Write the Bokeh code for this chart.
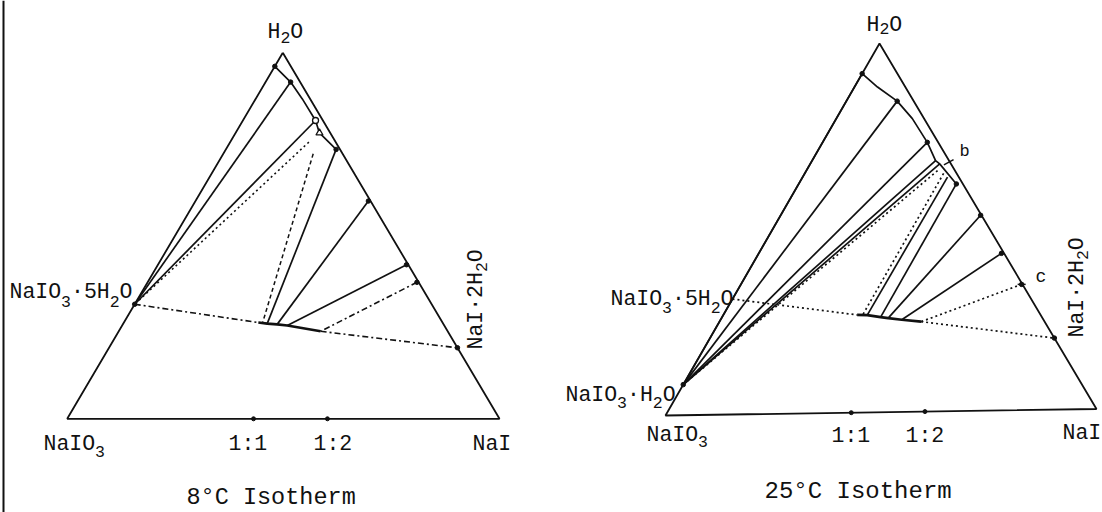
import math
from bokeh.plotting import figure
from bokeh.models import Range1d, Span
from bokeh.core.properties import value
from bokeh.embed import file_html
from bokeh.resources import INLINE

# ---------------- DATA: compositions in wt % (H2O, NaI); NaIO3 = 100 - H2O - NaI
# solid phases
penta_h2o, penta_nai = 31.3, 0.0      # NaIO3.5H2O
mono_h2o, mono_nai = 8.3, 0.0         # NaIO3.H2O
dih_h2o, dih_nai = 19.4, 80.6         # NaI.2H2O
ratio_nai = [43.1, 60.2]              # 1:1 and 1:2 on the NaIO3-NaI side
ratio_labels = ["1:1", "1:2"]

# ---- 8 C isotherm
i8_curve_h2o = [96.3, 92.0, 87.4, 81.5, 78.1, 73.6]
i8_curve_nai = [0.0, 5.8, 10.8, 16.8, 19.4, 25.5]
i8_open_h2o = [81.5, 78.1]            # open symbols on the curve
i8_open_nai = [16.8, 19.4]
i8_liq_penta_h2o = [92.0, 81.5]       # liquids tied to NaIO3.5H2O
i8_liq_penta_nai = [5.8, 16.8]
i8_dotliq_h2o, i8_dotliq_nai = 75.6, 18.2
i8_dash_h2o = [72.4, 26.3]
i8_dash_nai = [20.8, 32.1]
i8_liq_h2o = [73.6, 59.5, 42.1]       # liquids tied to residues
i8_liq_nai = [25.5, 40.0, 57.5]
i8_res_h2o = [26.0, 25.8, 25.5]
i8_res_nai = [33.3, 35.7, 38.2]
i8_dd_liq_h2o, i8_dd_liq_nai = 37.3, 62.3
i8_base_h2o = [26.3, 26.0, 25.8, 25.5, 23.9]
i8_base_nai = [31.1, 33.3, 35.7, 38.2, 46.7]

# ---- 25 C isotherm
i25_curve_h2o = [91.9, 88.2, 84.3, 79.5, 73.0, 68.0, 67.1, 61.6]
i25_curve_nai = [0.0, 5.4, 11.9, 17.8, 24.5, 28.9, 30.3, 36.9]
i25_liq_mono_h2o = [91.9, 84.3, 73.0, 68.0, 67.1]   # liquids tied to NaIO3.H2O
i25_liq_mono_nai = [0.0, 11.9, 24.5, 28.9, 30.3]
i25_dotliq_mono_h2o, i25_dotliq_mono_nai = 65.3, 30.7
i25_dotliq_h2o, i25_dotliq_nai = 64.5, 32.5
i25_dotres_h2o, i25_dotres_nai = 26.5, 32.6
i25_liq_h2o = [63.5, 61.6, 53.0, 42.6]
i25_liq_nai = [33.9, 36.9, 46.8, 56.8]
i25_res_h2o = [26.4, 25.8, 25.5, 25.0]
i25_res_nai = [33.7, 37.1, 39.0, 42.4]
i25_c_h2o, i25_c_nai = 34.1, 65.7
i25_b_h2o, i25_b_nai = 67.5, 32.2
i25_base_h2o = [26.5, 26.4, 25.8, 25.5, 25.0, 24.4]
i25_base_nai = [31.3, 33.7, 37.1, 39.0, 42.4, 47.2]

# ---------------- LAYOUT (page pixels of the triangle corners: H2O, NaIO3, NaI)
T8 = ((282.3, 52.3), (66.7, 418.3), (499.0, 418.3))
T25 = ((879.0, 43.0), (665.0, 415.0), (1096.0, 408.5))
INK = "#111111"
FONT = value("Liberation Mono")
BASE_FIX = 6.0   # svg text sits lower than the alphabetic baseline asked for


def to_xy(h2o, nai, tri):
    (wx, wy), (sx, sy), (nx, ny) = tri
    xs, ys = [], []
    for h, n in zip(h2o, nai):
        h /= 100.0
        n /= 100.0
        xs.append(sx + n * (nx - sx) + h * (wx - sx))
        ys.append(sy + n * (ny - sy) + h * (wy - sy))
    return xs, ys


def segs(a_h, a_n, b_h, b_n, tri):
    ax, ay = to_xy(a_h, a_n, tri)
    bx, by = to_xy(b_h, b_n, tri)
    return [[x0, x1] for x0, x1 in zip(ax, bx)], [[y0, y1] for y0, y1 in zip(ay, by)]


p = figure(width=1102, height=512, x_range=Range1d(0, 1102), y_range=Range1d(512, 0),
           title=None, x_axis_type=None, y_axis_type=None, toolbar_location=None,
           output_backend="svg", min_border=0, outline_line_color=None,
           background_fill_color="white", border_fill_color="white")

p.add_layout(Span(location=3, dimension="height", line_color=INK, line_width=2))


def line(xs, ys, w=1.7, dash="solid"):
    p.line(xs, ys, line_color=INK, line_width=w, line_dash=dash)


def mline(xs, ys, w=1.7, dash="solid"):
    p.multi_line(xs, ys, line_color=INK, line_width=w, line_dash=dash)


def dots(xs, ys, size=4.5):
    p.scatter(xs, ys, size=size, color=INK)


def triangle(tri):
    xs, ys = to_xy([100, 0, 0, 100], [0, 0, 100, 0], tri)
    line(xs, ys, w=1.8)


# ---------- 8 C
triangle(T8)
x, y = to_xy(i8_curve_h2o, i8_curve_nai, T8)
line(x, y)
n = len(i8_liq_penta_h2o)
xs, ys = segs(i8_liq_penta_h2o, i8_liq_penta_nai, [penta_h2o] * n, [penta_nai] * n, T8)
mline(xs, ys)
xs, ys = segs([i8_dotliq_h2o], [i8_dotliq_nai], [penta_h2o], [penta_nai], T8)
mline(xs, ys, w=1.6, dash="2 3")
x, y = to_xy(i8_dash_h2o, i8_dash_nai, T8)
line(x, y, w=1.5, dash="4 3")
xs, ys = segs(i8_liq_h2o, i8_liq_nai, i8_res_h2o, i8_res_nai, T8)
mline(xs, ys)
xs, ys = segs([i8_dd_liq_h2o, penta_h2o, i8_base_h2o[-1]], [i8_dd_liq_nai, penta_nai, i8_base_nai[-1]],
              [i8_base_h2o[-1], i8_base_h2o[0], dih_h2o], [i8_base_nai[-1], i8_base_nai[0], dih_nai], T8)
mline(xs, ys, w=1.6, dash="6 3 2 3")
x, y = to_xy(i8_base_h2o, i8_base_nai, T8)
line(x, y, w=2.6)
x, y = to_xy([i8_curve_h2o[0], i8_curve_h2o[1], i8_curve_h2o[-1]] + i8_liq_h2o[1:] + [i8_dd_liq_h2o, dih_h2o, penta_h2o],
             [i8_curve_nai[0], i8_curve_nai[1], i8_curve_nai[-1]] + i8_liq_nai[1:] + [i8_dd_liq_nai, dih_nai, penta_nai], T8)
dots(x, y)
x, y = to_xy([0, 0], ratio_nai, T8)
dots(x, y, 4)
x, y = to_xy(i8_open_h2o[:1], i8_open_nai[:1], T8)
p.scatter(x, y, marker="circle", size=6, fill_color="white", line_color=INK, line_width=1.3)
x, y = to_xy(i8_open_h2o[1:], i8_open_nai[1:], T8)
p.scatter(x, y, marker="triangle", size=7, fill_color="white", line_color=INK, line_width=1.3)

# ---------- 25 C
triangle(T25)
x, y = to_xy(i25_curve_h2o, i25_curve_nai, T25)
line(x, y)
n = len(i25_liq_mono_h2o)
xs, ys = segs(i25_liq_mono_h2o, i25_liq_mono_nai, [mono_h2o] * n, [mono_nai] * n, T25)
mline(xs, ys)
xs, ys = segs([i25_dotliq_mono_h2o, i25_dotliq_h2o, i25_c_h2o, i25_base_h2o[-1], penta_h2o],
              [i25_dotliq_mono_nai, i25_dotliq_nai, i25_c_nai, i25_base_nai[-1], penta_nai],
              [mono_h2o, i25_dotres_h2o, i25_base_h2o[-1], dih_h2o, i25_base_h2o[0]],
              [mono_nai, i25_dotres_nai, i25_base_nai[-1], dih_nai, i25_base_nai[0]], T25)
mline(xs, ys, w=1.7, dash="2 3")
xs, ys = segs(i25_liq_h2o, i25_liq_nai, i25_res_h2o, i25_res_nai, T25)
mline(xs, ys)
x, y = to_xy(i25_base_h2o, i25_base_nai, T25)
line(x, y, w=2.6)
x, y = to_xy([i25_curve_h2o[0], i25_curve_h2o[2], i25_curve_h2o[4]] + i25_liq_h2o[1:] + [i25_c_h2o, dih_h2o, mono_h2o],
             [i25_curve_nai[0], i25_curve_nai[2], i25_curve_nai[4]] + i25_liq_nai[1:] + [i25_c_nai, dih_nai, mono_nai], T25)
dots(x, y)
x, y = to_xy([0, 0], ratio_nai, T25)
dots(x, y, 4)
x, y = to_xy([i25_b_h2o], [i25_b_nai], T25)
p.scatter(x, y, marker="dash", size=11, angle=0.5, line_color=INK, line_width=1.5)
x, y = to_xy([i25_c_h2o], [i25_c_nai], T25)
p.scatter(x, y, marker="dash", size=8, angle=0.0, line_color=INK, line_width=1.5)

# ---------------- TEXT
FS, SUB = 21.5, 16.5


def label(x0, y0, parts, drop, fs=FS, sub=SUB, rotated=False):
    pos = 0.0
    for txt, is_sub in parts:
        size = sub if is_sub else fs
        off = (drop if is_sub else 0.0) - BASE_FIX
        if rotated:
            px, py, ang = x0 + off, y0 - pos, math.pi / 2
        else:
            px, py, ang = x0 + pos, y0 + off, 0.0
        p.text([px], [py], text=[txt], angle=ang, text_font=FONT,
               text_font_size=f"{size}px", text_align="left",
               text_baseline="alphabetic", text_color=INK)
        pos += 0.6 * size * len(txt)


# 8 C
label(267, 37, [("H", 0), ("2", 1), ("O", 0)], 6)
label(9, 297, [("NaIO", 0), ("3", 1), ("\u00b75H", 0), ("2", 1), ("O", 0)], 10)
label(481, 349, [("NaI\u00b72H", 0), ("2", 1), ("O", 0)], 6, rotated=True)
label(43, 449, [("NaIO", 0), ("3", 1)], 8)
label(228, 449, [(ratio_labels[0], 0)], 0)
label(313, 449, [(ratio_labels[1], 0)], 0)
label(472, 449, [("NaI", 0)], 0)
label(186, 503, [("8\u00b0C Isotherm", 0)], 0, fs=23.5)

# 25 C
label(866, 30, [("H", 0), ("2", 1), ("O", 0)], 4)
label(610, 304, [("NaIO", 0), ("3", 1), ("\u00b75H", 0), ("2", 1), ("O", 0)], 9)
label(565, 400, [("NaIO", 0), ("3", 1), ("\u00b7H", 0), ("2", 1), ("O", 0)], 8)
label(1082, 337, [("NaI\u00b72H", 0), ("2", 1), ("O", 0)], 6, rotated=True)
label(646, 440, [("NaIO", 0), ("3", 1)], 7)
label(831, 441, [(ratio_labels[0], 0)], 0)
label(905, 441, [(ratio_labels[1], 0)], 0)
label(1062, 438, [("NaI", 0)], 0)
label(764, 497, [("25\u00b0C Isotherm", 0)], 0, fs=24)
label(1035, 282, [("c", 0)], 0, fs=18)
label(959, 157, [("b", 0)], 0, fs=17)

open("out.html", "w").write(file_html(p, INLINE))
